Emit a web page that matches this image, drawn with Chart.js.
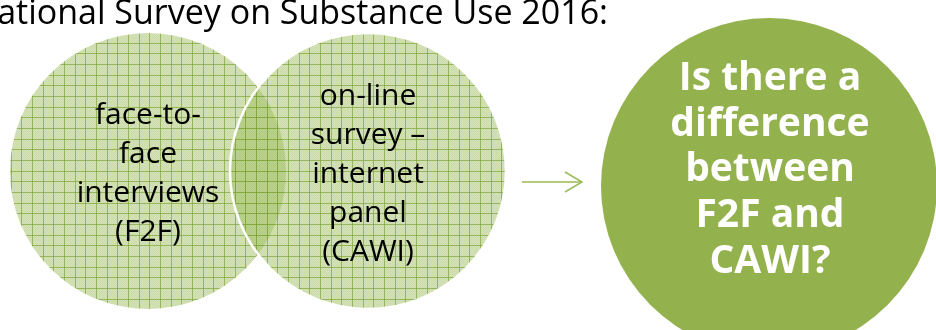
<!DOCTYPE html>
<html>
<head>
<meta charset="utf-8">
<script src="https://cdn.jsdelivr.net/npm/chart.js@4.4.1/dist/chart.umd.min.js"></script>
<style>
html,body{margin:0;padding:0;background:#fff;overflow:hidden;}
#wrap{position:relative;width:936px;height:330px;}
</style>
</head>
<body>
<div id="wrap"><canvas id="c" width="936" height="330"></canvas></div>
<script>
// ---- data ----
const circleNames = ['F2F', 'CAWI', 'Question'];
const circleX = [148, 368, 769];
const circleY = [171, 171, 186];
const circleR = [138, 138, 168];

const titleText = 'National Survey on Substance Use 2016:';
const f2fLines = ['face-to-', 'face', 'interviews', '(F2F)'];
const cawiLines = ['on-line', 'survey \u2013', 'internet', 'panel', '(CAWI)'];
const questionLines = ['Is there a', 'difference', 'between', 'F2F and', 'CAWI?'];

const arrowShaftX = [522, 582];
const arrowShaftY = [182, 182];
const arrowHeadX = [565, 582, 565];
const arrowHeadY = [172, 182, 192];

// ---- styles ----
function makeGridPattern() {
  const size = 32;
  const pc = document.createElement('canvas');
  pc.width = size; pc.height = size;
  const g = pc.getContext('2d');
  for (let y = 0; y < size; y++) {
    for (let x = 0; x < size; x++) {
      g.fillStyle = ((x + y) % 2 === 0) ? 'rgba(155,187,89,0.52)' : 'rgba(155,187,89,0.42)';
      g.fillRect(x, y, 1, 1);
    }
  }
  g.fillStyle = 'rgba(125,165,55,0.70)';
  [0, 11, 21].forEach(p => { g.fillRect(p, 0, 1, size); g.fillRect(0, p, size, 1); });
  return g.createPattern(pc, 'repeat');
}
const ctx0 = document.getElementById('c').getContext('2d');
const gridPattern = makeGridPattern();

const textPlugin = {
  id: 'texts',
  afterDatasetsDraw(chart) {
    const { ctx, scales: { x, y } } = chart;
    ctx.save();
    ctx.textAlign = 'right';
    ctx.textBaseline = 'alphabetic';
    ctx.fillStyle = '#000';
    ctx.font = '34px "Open Sans"';
    ctx.fillText(titleText, x.getPixelForValue(608), y.getPixelForValue(24));

    ctx.textAlign = 'center';
    ctx.font = '30px "Open Sans"';
    f2fLines.forEach((t, i) => ctx.fillText(t, x.getPixelForValue(circleX[0]), y.getPixelForValue(124 + i * 39)));
    cawiLines.forEach((t, i) => ctx.fillText(t, x.getPixelForValue(circleX[1]), y.getPixelForValue(105 + i * 39)));

    ctx.fillStyle = '#fff';
    ctx.font = 'bold 39px "Open Sans"';
    questionLines.forEach((t, i) => ctx.fillText(t, x.getPixelForValue(770), y.getPixelForValue(90 + i * 45.7)));
    ctx.restore();
  }
};

new Chart(ctx0, {
  type: 'bubble',
  data: {
    datasets: [
      {
        label: 'circles',
        data: circleNames.map((n, i) => ({ x: circleX[i], y: circleY[i], r: circleR[i] })),
        backgroundColor: [gridPattern, gridPattern, '#93b24d'],
        borderColor: ['rgba(0,0,0,0)', '#ffffff', 'rgba(0,0,0,0)'],
        borderWidth: [0, 2.5, 0],
        order: 2
      },
      {
        type: 'line',
        label: 'shaft',
        data: arrowShaftX.map((v, i) => ({ x: v, y: arrowShaftY[i] })),
        borderColor: '#9bbb59',
        borderWidth: 1.5,
        pointRadius: 0,
        fill: false,
        tension: 0,
        order: 1
      },
      {
        type: 'line',
        label: 'head',
        data: arrowHeadX.map((v, i) => ({ x: v, y: arrowHeadY[i] })),
        borderColor: '#9bbb59',
        borderWidth: 1.5,
        pointRadius: 0,
        fill: false,
        tension: 0,
        order: 1
      }
    ]
  },
  options: {
    responsive: false,
    animation: false,
    events: [],
    layout: { padding: 0, autoPadding: false },
    plugins: { legend: { display: false }, tooltip: { enabled: false }, title: { display: false } },
    scales: {
      x: { type: 'linear', min: 0, max: 936, display: false },
      y: { type: 'linear', min: 0, max: 330, reverse: true, display: false }
    }
  },
  plugins: [textPlugin]
});
</script>
</body>
</html>
